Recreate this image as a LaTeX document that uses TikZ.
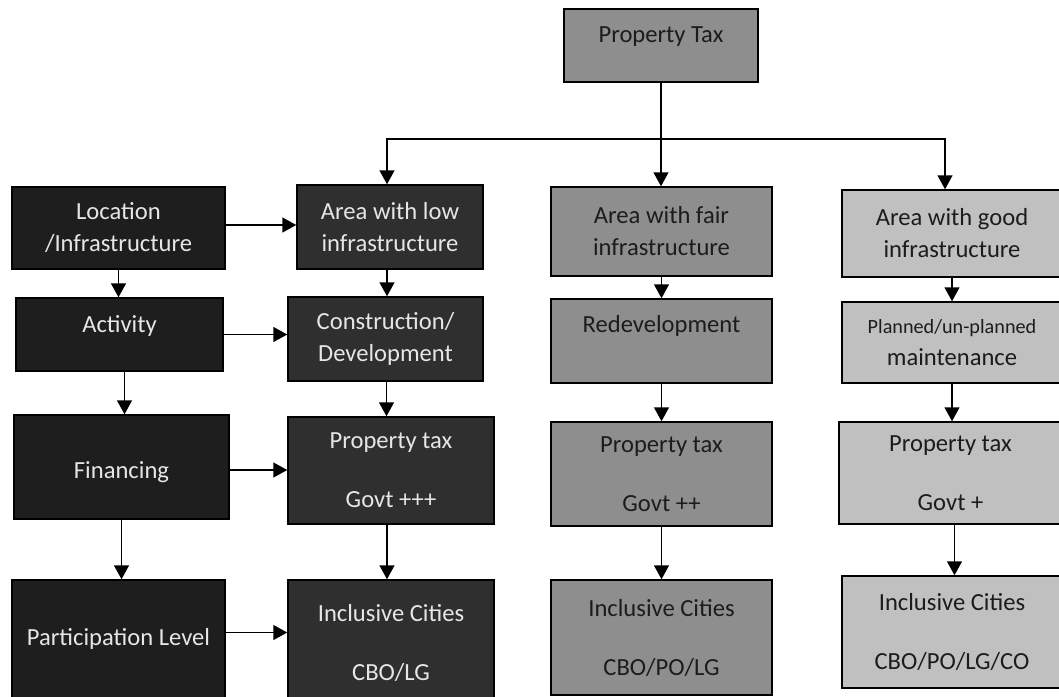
\documentclass[tikz,border=0pt]{standalone}
\usepackage{fontspec}
\setmainfont{Carlito}
\usetikzlibrary{arrows.meta}

\definecolor{leftfill}{HTML}{1E1E1E}
\definecolor{lowfill}{HTML}{2F2F2F}
\definecolor{fairfill}{HTML}{8E8E8E}
\definecolor{goodfill}{HTML}{C0C0C0}
\definecolor{lighttext}{HTML}{E6E6E6}
\definecolor{darktext}{HTML}{1C1C1C}

\begin{document}
\begin{tikzpicture}[
        x=1pt, y=-1pt,
        font=\fontsize{24.6}{32}\selectfont,
        block/.style={rectangle, draw=black, line width=1.5pt, align=center, inner sep=0pt},
        leftbox/.style={block, fill=leftfill, text=lighttext},
        lowbox/.style={block, fill=lowfill, text=lighttext},
        fairbox/.style={block, fill=fairfill, text=darktext},
        goodbox/.style={block, fill=goodfill, text=darktext},
        size/.style 2 args={minimum width=#1pt, minimum height=#2pt},
        raised/.style={text height=17pt, text depth=#1},
        line/.style={line width=1.5pt},
        arrow/.style={line, -{Triangle[width=15pt,length=14pt]}}  % filled heads
        ]

        \useasboundingbox (0,0) rectangle (1059,696);
        \clip (0,0) rectangle (1059,696);

        % top
        \node (pt)      [fairbox, size={194}{73}, raised=23pt] at (661,45.5) {Property Tax};
        \coordinate (split) at (661,139);

        % left column
        \node (loc)     [leftbox, size={213}{82}]  at (118.5,228)   {Location\\/Infrastructure};
        \node (act)     [leftbox, size={207}{73}, raised=21pt] at (119.5,334.5) {Activity};
        \node (fin)     [leftbox, size={215}{104}, text height=27pt, text depth=5pt] at (121.5,467) {Financing};
        \node (part)    [leftbox, size={213}{125}, raised=11pt] at (118.5,642.5) {Participation Level};

        % low infrastructure
        \node (low)     [lowbox, size={186}{84}]  at (390,227)   {Area with low\\infrastructure};
        \node (cons)    [lowbox, size={195}{84}]  at (385.5,339) {Construction/\\Development};
        \node (ptlow)   [lowbox, size={206}{107}] at (391,470.5) {Property tax\\[27pt]Govt +++};
        \node (inclow)  [lowbox, size={206}{125}] at (391,642.5) {Inclusive Cities\\[27pt]CBO/LG};

        % fair infrastructure
        \node (fair)    [fairbox, size={221}{89}]  at (661.5,231.5) {Area with fair\\infrastructure};
        \node (redev)   [fairbox, size={221}{84}, raised=34pt] at (661.5,341) {Redevelopment};
        \node (ptfair)  [fairbox, size={221}{104}] at (661.5,474)   {Property tax\\[27pt]Govt ++};
        \node (incfair) [fairbox, size={221}{115}] at (661.5,637.5) {Inclusive Cities\\[27pt]CBO/PO/LG};

        % good infrastructure
        \node (good)    [goodbox, size={220}{87}]  at (952,233.5)   {Area with good\\infrastructure};
        \node (plan)    [goodbox, size={220}{81}]  at (952,342.5)   {{\fontsize{20.2}{32}\selectfont Planned/un-planned}\\maintenance};
        \node (ptgood)  [goodbox, size={223}{102}] at (950.5,473)   {Property tax\\[27pt]Govt +};
        \node (incgood) [goodbox, size={220}{112}] at (952,632)     {Inclusive Cities\\[27pt]CBO/PO/LG/CO};

        % split from the top box
        \draw[line]  (pt.south) -- (split);
        \draw[arrow] (split) -| ([xshift=-3pt]low.north);
        \draw[arrow] (split) -- (split |- fair.north);
        \draw[arrow] (split) -| ([xshift=-7pt]good.north);

        % left column
        \draw[arrow] (loc.south) -- (loc.south |- act.north);
        \draw[arrow] ([xshift=5pt]act.south) -- ([xshift=5pt]act.south |- fin.north);
        \draw[arrow] (fin.south) -- (fin.south |- part.north);

        \draw[arrow] ([yshift=3pt]loc.east) -- ([yshift=3pt]loc.east -| low.west);
        \draw[arrow] (act.east) -- (act.east -| cons.west);
        \draw[arrow] ([yshift=-3pt]fin.east) -- ([yshift=-3pt]fin.east -| ptlow.west);
        \draw[arrow] ([yshift=10pt]part.east) -- ([yshift=10pt]part.east -| inclow.west);

        % low column
        \draw[arrow] ([xshift=-3pt]low.south) -- ([xshift=-3pt]low.south |- cons.north);
        \draw[arrow] ([xshift=1pt]cons.south) -- ([xshift=1pt]cons.south |- ptlow.north);
        \draw[arrow] ([xshift=-4pt]ptlow.south) -- ([xshift=-4pt]ptlow.south |- inclow.north);

        % fair column
        \draw[arrow] (fair.south) -- (fair.south |- redev.north);
        \draw[arrow] (redev.south) -- (redev.south |- ptfair.north);
        \draw[arrow] (ptfair.south) -- (ptfair.south |- incfair.north);

        % good column
        \draw[arrow] (good.south) -- (good.south |- plan.north);
        \draw[arrow] (plan.south) -- (plan.south |- ptgood.north);
        \draw[arrow] ([xshift=4pt]ptgood.south) -- ([xshift=4pt]ptgood.south |- incgood.north);

    \end{tikzpicture}
\end{document}
